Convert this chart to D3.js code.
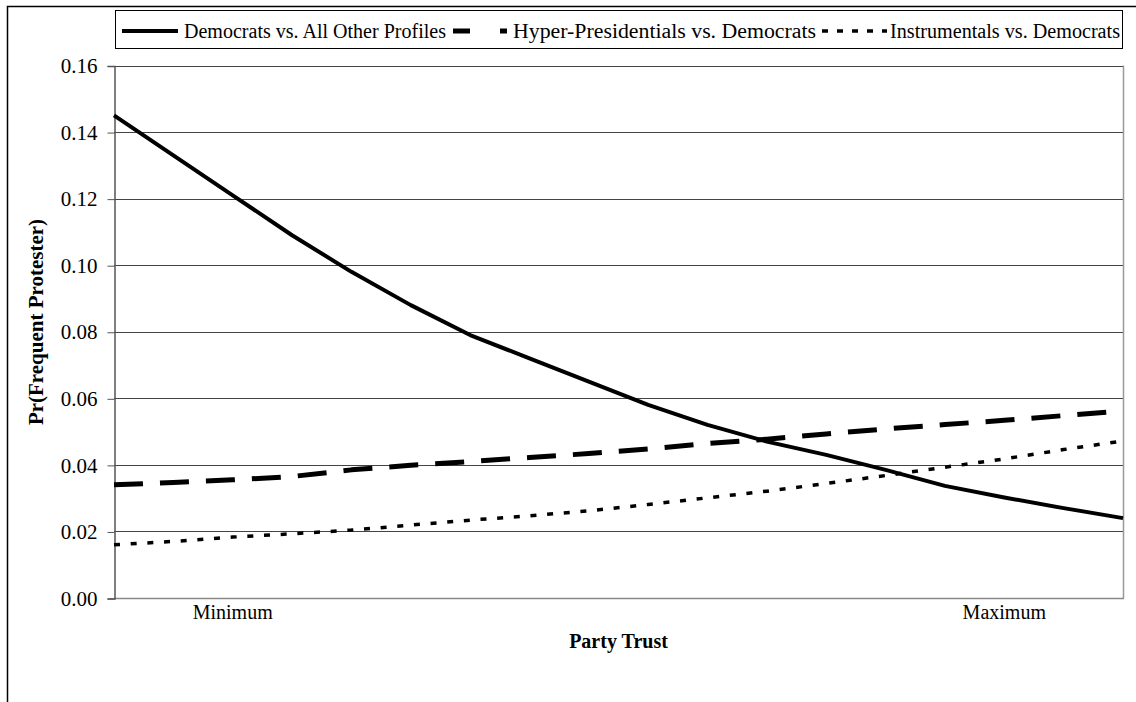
<!DOCTYPE html>
<html>
<head>
<meta charset="utf-8">
<script src="https://cdn.jsdelivr.net/npm/d3@7"></script>
<style>
  body { margin: 0; background: #fff; }
  svg text { font-family: "Liberation Serif", "Times New Roman", serif; fill: #000; }
</style>
</head>
<body>
<svg id="chart" width="1136" height="702"></svg>
<script>
// party trust steps, Minimum sits on step 2 and Maximum on step 15
const trustSteps = [0, 1, 2, 3, 4, 5, 6, 7, 8, 9, 10, 11, 12, 13, 14, 15, 16, 17]
const xLabels = [{ 'step': 2, 'label': 'Minimum' }, { 'step': 15, 'label': 'Maximum' }]

const democratsVsAll = [0.145, 0.133, 0.121, 0.109, 0.098, 0.088, 0.079, 0.072, 0.065, 0.058, 0.052, 0.047, 0.043, 0.0385, 0.0337, 0.0302, 0.027, 0.024]
const hyperVsDemocrats = [0.034, 0.0347, 0.0355, 0.0365, 0.0385, 0.0399, 0.041, 0.0422, 0.0434, 0.0448, 0.0464, 0.0477, 0.0493, 0.0508, 0.0521, 0.0534, 0.0548, 0.0562]
const instrVsDemocrats = [0.016, 0.017, 0.0183, 0.0193, 0.0204, 0.0219, 0.0234, 0.0247, 0.0262, 0.0281, 0.0301, 0.0321, 0.0344, 0.0368, 0.0393, 0.0418, 0.0446, 0.0472]

const yTicks = [0, 0.02, 0.04, 0.06, 0.08, 0.10, 0.12, 0.14, 0.16]
const seriesNames = ['Democrats vs. All Other Profiles', 'Hyper-Presidentials vs. Democrats', 'Instrumentals vs. Democrats']

const drawChart = () => {
    const svg = d3.select('#chart')
    const plot = { 'left': 114, 'right': 1123, 'top': 65.5, 'bottom': 598 }

    // outer chart border (only top and left show in the frame)
    svg.append('path')
        .attr('d', 'M7.5,702 L7.5,6.5 L1136,6.5')
        .attr('fill', 'none')
        .attr('stroke', '#000')
        .attr('stroke-width', 1.5)

    let x = d3.scaleLinear()
        .domain([0, trustSteps.length - 1])
        .range([plot.left, plot.right])

    let y = d3.scaleLinear()
        .domain([0, 0.16])
        .range([plot.bottom, plot.top])

    // gridlines
    svg.append('g')
        .selectAll('line')
        .data(yTicks.filter(d => d > 0))
        .join('line')
        .attr('x1', plot.left)
        .attr('x2', plot.right)
        .attr('y1', d => Math.round(y(d)) + 0.5)
        .attr('y2', d => Math.round(y(d)) + 0.5)
        .attr('stroke', '#444')
        .attr('stroke-width', 1)

    // right edge of the plot area and x axis line
    svg.append('line')
        .attr('x1', plot.right + 0.5).attr('x2', plot.right + 0.5)
        .attr('y1', plot.top).attr('y2', plot.bottom)
        .attr('stroke', '#999').attr('stroke-width', 1.5)

    svg.append('line')
        .attr('x1', plot.left).attr('x2', plot.right + 1)
        .attr('y1', Math.round(y(0)) + 0.5).attr('y2', Math.round(y(0)) + 0.5)
        .attr('stroke', '#888').attr('stroke-width', 1.5)

    // y axis
    const yAxis = svg.append('g')
        .attr('transform', `translate(${plot.left + 0.5},0.5)`)
        .call(d3.axisLeft(y).tickValues(yTicks).tickFormat(d3.format('.2f')).tickSize(7).tickPadding(10))
    yAxis.attr('font-family', null)
    yAxis.select('.domain').attr('stroke', '#555').attr('stroke-width', 1.5)
    yAxis.selectAll('.tick line').attr('stroke', '#555')
    yAxis.selectAll('text')
        .style('font-family', '"Liberation Serif", serif')
        .style('font-size', '21px')
        .attr('fill', '#000')

    // x category labels
    svg.append('g')
        .selectAll('text')
        .data(xLabels)
        .join('text')
        .attr('x', d => x(d.step))
        .attr('y', 619)
        .attr('text-anchor', 'middle')
        .style('font-size', '20px')
        .text(d => d.label)

    // axis titles
    svg.append('text')
        .attr('x', (plot.left + plot.right) / 2)
        .attr('y', 648)
        .attr('text-anchor', 'middle')
        .style('font-size', '20px')
        .style('font-weight', 'bold')
        .text('Party Trust')

    svg.append('text')
        .attr('transform', 'translate(43,322) rotate(-90)')
        .attr('text-anchor', 'middle')
        .style('font-size', '21px')
        .style('font-weight', 'bold')
        .text('Pr(Frequent Protester)')

    const line = d3.line()
        .x((d, i) => x(trustSteps[i]))
        .y(d => y(d))

    const styles = [
        { 'data': democratsVsAll, 'dash': null, 'width': 4 },
        { 'data': hyperVsDemocrats, 'dash': '29,17', 'width': 5 },
        { 'data': instrVsDemocrats, 'dash': '6,10.7', 'width': 3.5 }
    ]

    svg.append('g')
        .selectAll('path')
        .data(styles)
        .join('path')
        .attr('d', d => line(d.data))
        .attr('fill', 'none')
        .attr('stroke', '#000')
        .attr('stroke-width', d => d.width)
        .attr('stroke-dasharray', d => d.dash)
        .attr('stroke-linejoin', 'round')

    // legend
    const legend = svg.append('g')
    legend.append('rect')
        .attr('x', 115.5).attr('y', 10.5)
        .attr('width', 1007).attr('height', 38)
        .attr('fill', '#fff')
        .attr('stroke', '#000')
        .attr('stroke-width', 1)

    const legendItems = [
        { 'x1': 122, 'x2': 178, 'tx': 184, 'tw': 262, 'dash': null, 'width': 4 },
        { 'x1': 453, 'x2': 507, 'tx': 513, 'tw': 303, 'dash': '17,30', 'width': 5 },
        { 'x1': 822, 'x2': 887, 'tx': 890, 'tw': 230, 'dash': '6,9', 'width': 3.5 }
    ]

    legend.selectAll('line')
        .data(legendItems)
        .join('line')
        .attr('x1', d => d.x1).attr('x2', d => d.x2)
        .attr('y1', 31).attr('y2', 31)
        .attr('stroke', '#000')
        .attr('stroke-width', d => d.width)
        .attr('stroke-dasharray', d => d.dash)

    legend.selectAll('text')
        .data(legendItems)
        .join('text')
        .attr('x', d => d.tx)
        .attr('y', 37.5)
        .attr('textLength', d => d.tw)
        .attr('lengthAdjust', 'spacingAndGlyphs')
        .style('font-size', '20px')
        .text((d, i) => seriesNames[i])
}

drawChart()
</script>
</body>
</html>
